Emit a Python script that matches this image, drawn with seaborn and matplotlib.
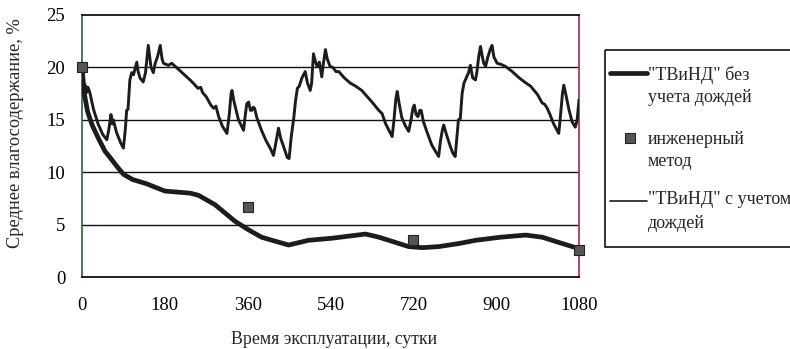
import numpy as np
import pandas as pd
import matplotlib
matplotlib.use("Agg")
import matplotlib.pyplot as plt
from matplotlib.lines import Line2D
from matplotlib.patches import Rectangle
import seaborn as sns

# Moisture content with rainfall ("ТВиНД" с учетом дождей)
rain_days = [0, 3, 7, 10, 13, 17, 25, 35, 45, 54, 58, 63, 66, 68, 75, 84, 90, 94, 97, 100,
             104, 108, 112, 119, 122, 126, 133, 138, 144, 150, 155, 159, 164, 170, 174, 177,
             182, 188, 195, 205, 215, 225, 235, 246, 252, 258, 262, 270, 280, 286, 291, 297,
             305, 315, 320, 324, 326, 330, 340, 351, 355, 358, 362, 366, 369, 372, 375, 380,
             390, 400, 410, 416, 420, 424, 427, 432, 440, 446, 450, 455, 460, 464, 468, 472,
             478, 485, 490, 496, 499, 503, 507, 511, 516, 521, 525, 529, 533, 539, 545, 552,
             558, 570, 583, 595, 608, 620, 632, 645, 652, 660, 667, 674, 678, 682, 685, 689,
             695, 703, 710, 715, 719, 722, 726, 730, 734, 737, 742, 750, 760, 768, 775, 779,
             783, 786, 792, 800, 806, 811, 815, 818, 822, 826, 830, 833, 837, 840, 844, 849,
             855, 858, 862, 866, 870, 873, 877, 882, 887, 891, 895, 902, 910, 920, 935, 950,
             962, 975, 990, 1000, 1005, 1011, 1016, 1025, 1036, 1040, 1044, 1047, 1051, 1058,
             1065, 1072, 1076, 1080]
rain_values = [20.0, 17.4, 18.3, 17.6, 18.1, 17.6, 16.0, 14.6, 13.6, 13.1, 14.0, 15.5, 14.6,
               15.0, 13.8, 12.8, 12.3, 14.0, 15.9, 16.0, 18.8, 19.5, 19.3, 20.5, 19.6, 19.0,
               18.6, 19.5, 22.1, 20.0, 19.5, 20.4, 21.0, 22.1, 20.8, 20.4, 20.3, 20.2, 20.4,
               20.0, 19.6, 19.2, 18.8, 18.3, 18.0, 18.1, 17.6, 17.2, 16.4, 16.1, 16.3, 15.3,
               14.4, 13.7, 15.5, 17.5, 17.8, 16.8, 15.0, 14.0, 15.5, 16.5, 16.7, 15.9, 15.9,
               16.2, 16.1, 15.2, 14.0, 13.0, 12.2, 11.6, 12.5, 13.5, 14.2, 13.2, 12.2, 11.4,
               11.3, 13.5, 15.1, 16.8, 18.0, 18.2, 19.0, 19.6, 18.5, 17.8, 18.5, 21.3, 20.6,
               20.1, 20.5, 19.1, 20.5, 21.7, 20.8, 20.1, 20.0, 19.6, 19.6, 19.0, 18.5, 18.2,
               17.8, 17.2, 16.6, 15.9, 15.6, 14.6, 14.0, 13.4, 15.0, 17.0, 17.7, 16.6, 15.2,
               14.4, 13.9, 15.0, 16.1, 16.4, 15.5, 15.3, 15.9, 15.9, 14.8, 13.8, 12.6, 12.0,
               11.5, 13.0, 14.0, 14.5, 13.6, 12.5, 11.8, 11.5, 13.5, 15.0, 15.1, 17.5, 18.5,
               18.8, 19.2, 19.5, 20.2, 19.0, 18.8, 19.5, 21.0, 22.0, 21.0, 20.4, 20.1, 21.0,
               21.7, 22.1, 21.0, 20.4, 20.3, 20.1, 19.6, 19.0, 18.6, 18.2, 17.4, 16.6, 16.5,
               16.1, 15.6, 14.6, 13.7, 15.5, 17.5, 18.3, 17.5, 16.0, 14.8, 14.3, 15.0, 16.9]

# Moisture content without rainfall ("ТВиНД" без учета дождей)
dry_days = [0, 5, 12, 22, 36, 50, 61, 75, 90, 110, 140, 180, 235, 253, 289, 333, 362, 390,
            413, 449, 492, 543, 580, 616, 645, 674, 710, 740, 775, 820, 855, 910, 964, 1000,
            1036, 1080]
dry_values = [20.0, 17.5, 15.8, 14.5, 13.2, 12.0, 11.4, 10.6, 9.8, 9.3, 8.9, 8.2, 8.0, 7.8,
              6.9, 5.3, 4.5, 3.8, 3.5, 3.05, 3.5, 3.7, 3.9, 4.1, 3.8, 3.4, 2.9, 2.8, 2.9, 3.2,
              3.5, 3.8, 4.0, 3.8, 3.3, 2.7]

# Engineering method
eng_days = [0, 360, 720, 1080]
eng_values = [20.0, 6.7, 3.5, 2.6]

x_ticks = [0, 180, 360, 540, 720, 900, 1080]
y_ticks = [0, 5, 10, 15, 20, 25]

legend_labels = ['"ТВиНД" без\nучета дождей', "инженерный\nметод", '"ТВиНД" с учетом\nдождей']
x_label = "Время эксплуатации, сутки"
y_label = "Среднее влагосодержание, %"

sns.set_style("white")
plt.rcParams["font.family"] = ["Liberation Serif", "DejaVu Serif"]

W, H = 790, 349
fig = plt.figure(figsize=(W / 100, H / 100), dpi=100)
ax = fig.add_axes([82 / W, 1 - 277 / H, (579 - 82) / W, 262 / H])

rain_df = pd.DataFrame({"day": rain_days, "value": rain_values})
dry_df = pd.DataFrame({"day": dry_days, "value": dry_values})
eng_df = pd.DataFrame({"day": eng_days, "value": eng_values})

for yv in y_ticks[1:-1]:
    ax.axhline(yv, color="#111111", lw=1.0, zorder=1)

sns.lineplot(data=dry_df, x="day", y="value", ax=ax, color="#1c1c1c", lw=3.4,
             estimator=None, sort=False, zorder=3)
sns.lineplot(data=rain_df, x="day", y="value", ax=ax, color="#1c1c1c", lw=2.1,
             estimator=None, sort=False, zorder=4)
sns.scatterplot(data=eng_df, x="day", y="value", ax=ax, marker="s", s=45,
                color="#555555", edgecolor="#222222", linewidth=0.8, zorder=5, clip_on=False)

ax.set_xlim(0, 1080)
ax.set_ylim(0, 25)
ax.set_xticks(x_ticks)
ax.set_yticks(y_ticks)
ax.tick_params(axis="both", direction="out", length=4, width=1, color="#222222",
               labelsize=13.5, labelcolor="black")
ax.tick_params(axis="x", pad=10.5)
ax.tick_params(axis="y", pad=8)

ax.spines["top"].set_color("#111111")
ax.spines["bottom"].set_color("#111111")
ax.spines["left"].set_color("#3d6b45")
ax.spines["right"].set_color("#b03070")
for sp in ax.spines.values():
    sp.set_linewidth(1.3)
    sp.set_visible(True)

ax.set_xlabel(x_label, fontsize=12.8)
ax.set_ylabel(y_label, fontsize=13.2)
ax.xaxis.set_label_coords(0.507, -0.207)
ax.yaxis.set_label_coords(-0.117, 0.548)

# Legend panel drawn in figure pixel space
lg = fig.add_axes([0, 0, 1, 1], zorder=10)
lg.set_xlim(0, W)
lg.set_ylim(H, 0)
lg.axis("off")
lg.patch.set_alpha(0)
lg.add_patch(Rectangle((605, 50), 200, 197, fill=False, edgecolor="#111111", lw=1.2,
                       clip_on=False))
lg.add_line(Line2D([610, 647], [73, 73], color="#1c1c1c", lw=3.4))
lg.add_line(Line2D([630], [138], marker="s", markersize=6.5, color="#555555",
                   markeredgecolor="#222222", markeredgewidth=0.8, linestyle="none"))
lg.add_line(Line2D([610, 647], [201, 201], color="#1c1c1c", lw=1.2))
line_rows = [(75, 97), (140, 162), (200, 224)]
for label, rows in zip(legend_labels, line_rows):
    for part, yrow in zip(label.split("\n"), rows):
        lg.text(648, yrow, part, fontsize=13, va="center", ha="left")

fig.savefig("out.png", dpi=100)
